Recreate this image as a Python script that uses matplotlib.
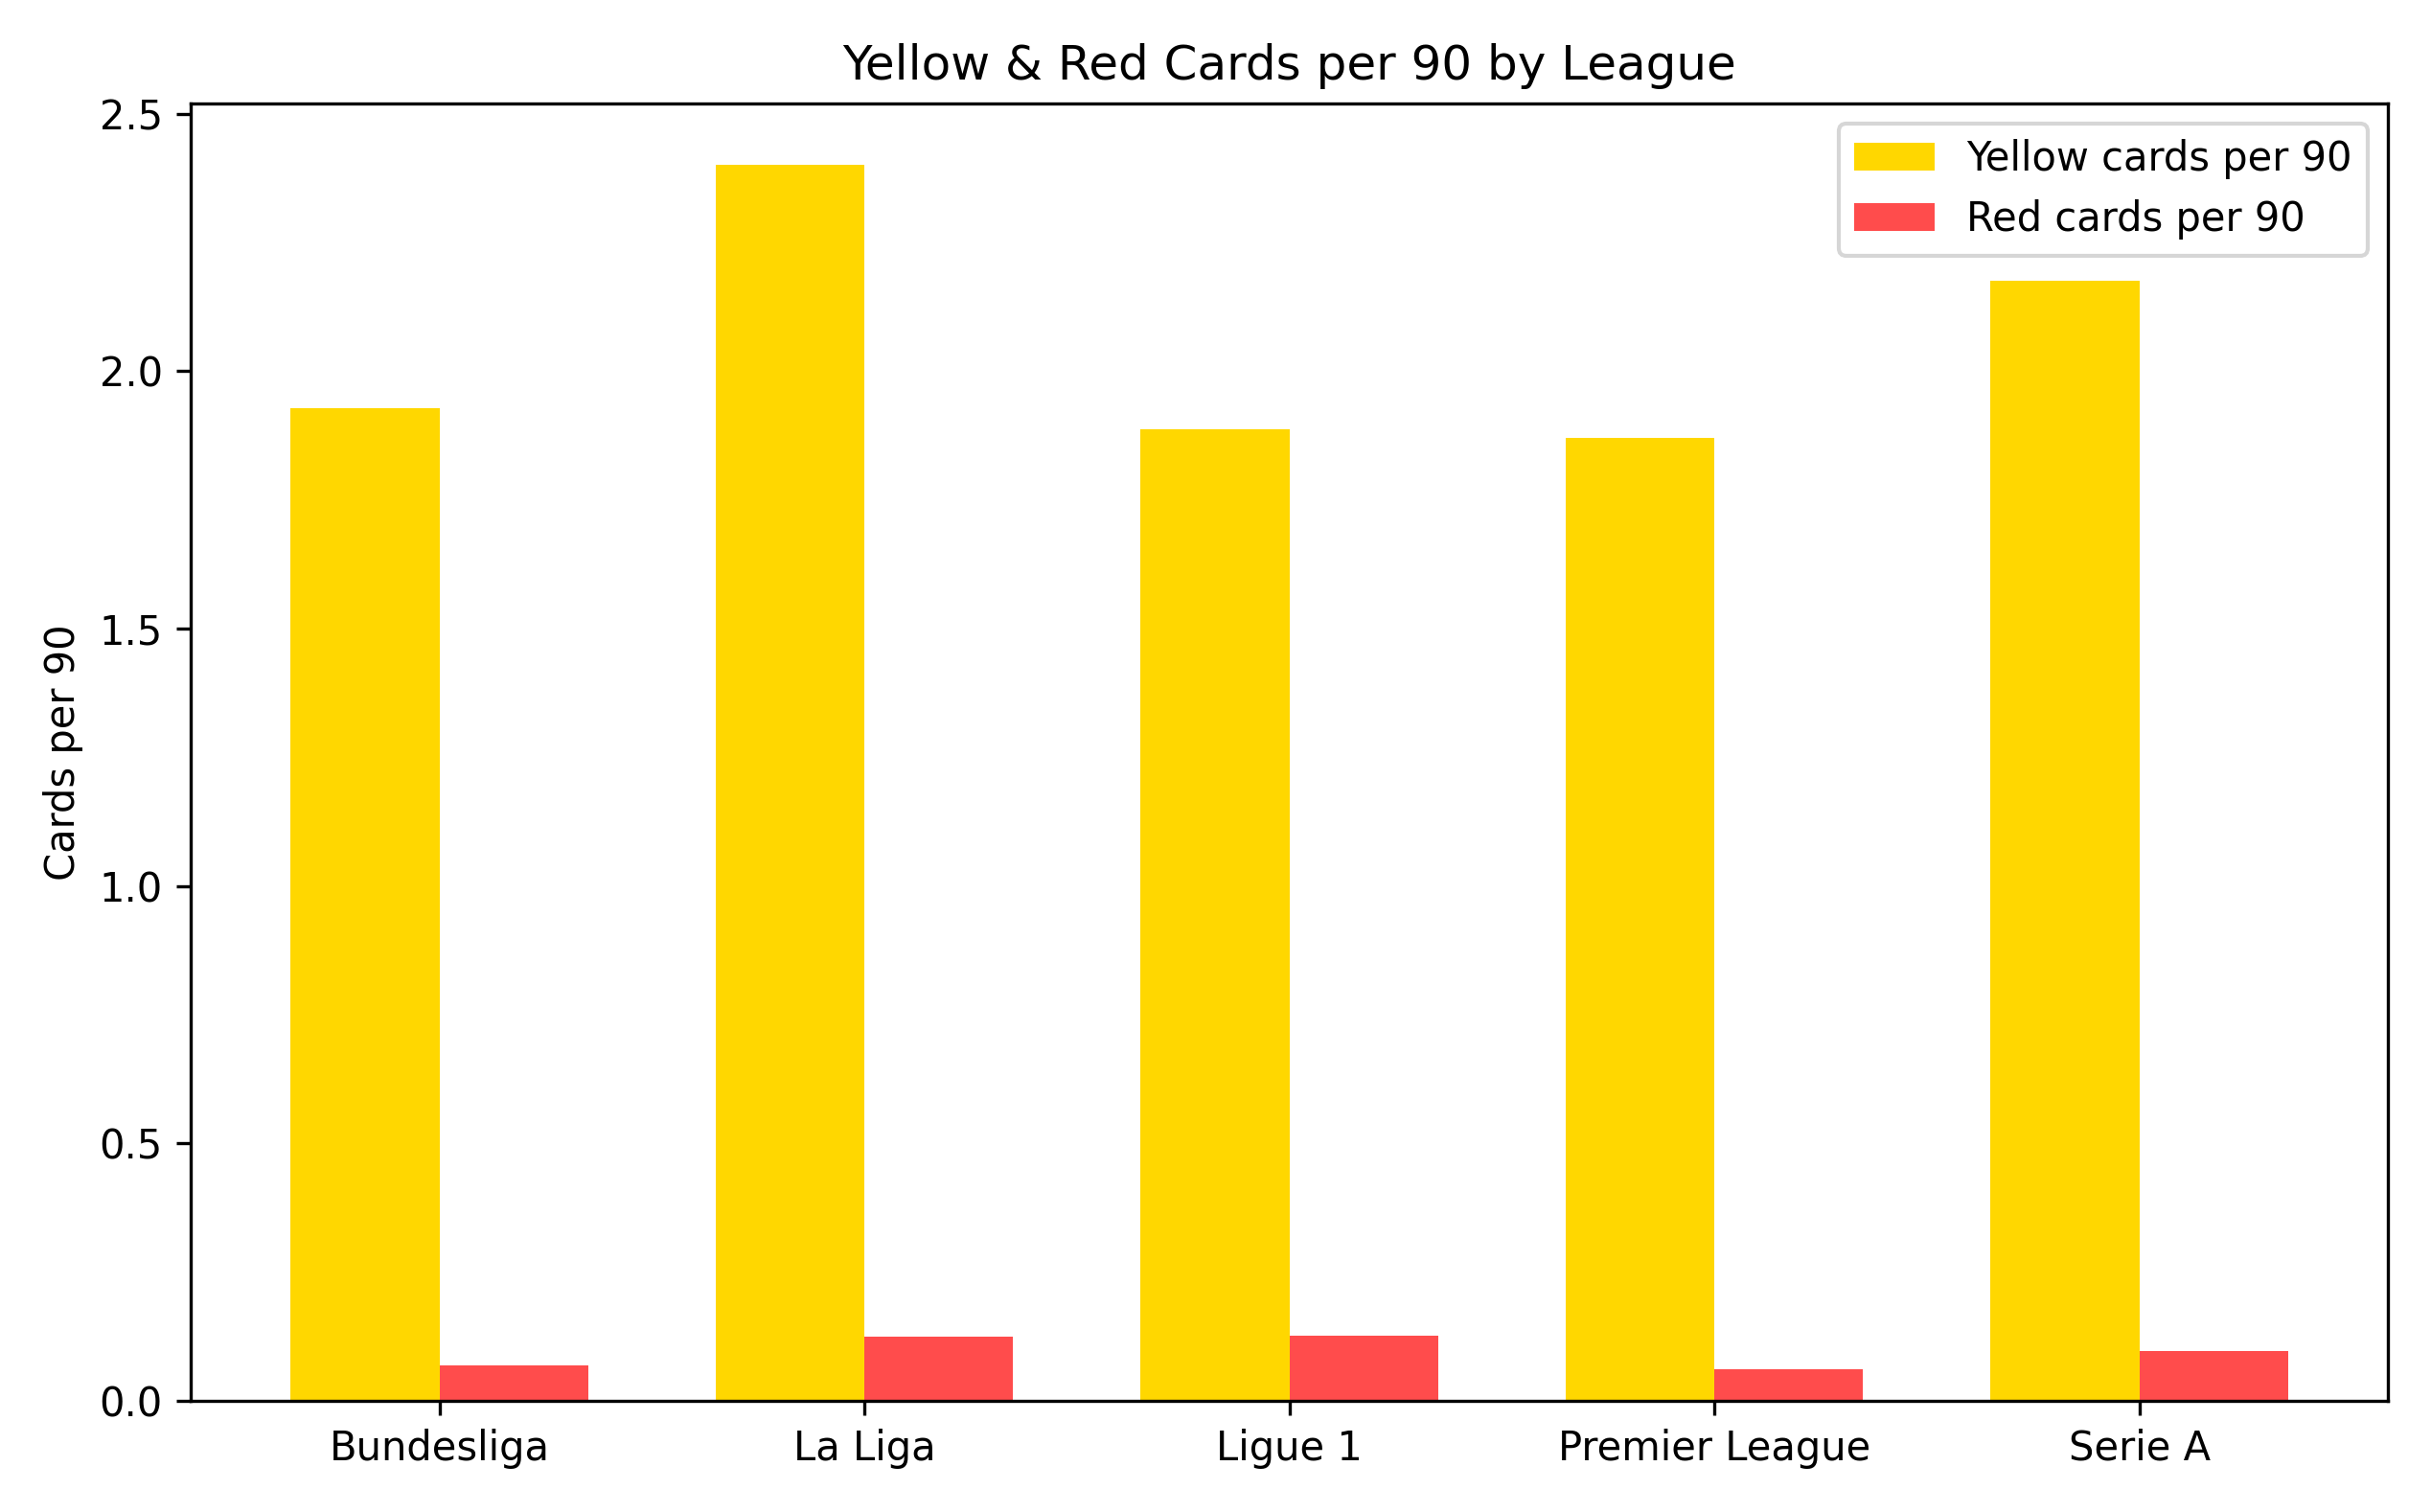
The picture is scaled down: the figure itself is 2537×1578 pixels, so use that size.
import numpy as np
import matplotlib
matplotlib.use("Agg")
import matplotlib.pyplot as plt

leagues = ["Bundesliga", "La Liga", "Ligue 1", "Premier League", "Serie A"]
yellow_per90 = [1.929, 2.400, 1.888, 1.870, 2.176]
red_per90 = [0.068, 0.124, 0.127, 0.062, 0.097]

x = np.arange(len(leagues))
width = 0.35

fig, ax = plt.subplots(figsize=(8.457, 5.26), dpi=300)
ax.bar(x - width / 2, yellow_per90, width, color="gold", label="Yellow cards per 90")
ax.bar(x + width / 2, red_per90, width, color="#ff4c4c", label="Red cards per 90")

ax.set_xticks(x)
ax.set_xticklabels(leagues)
ax.set_ylabel("Cards per 90")
ax.set_title("Yellow & Red Cards per 90 by League")
ax.legend(loc="upper right")

plt.tight_layout()
fig.savefig("out.png")
